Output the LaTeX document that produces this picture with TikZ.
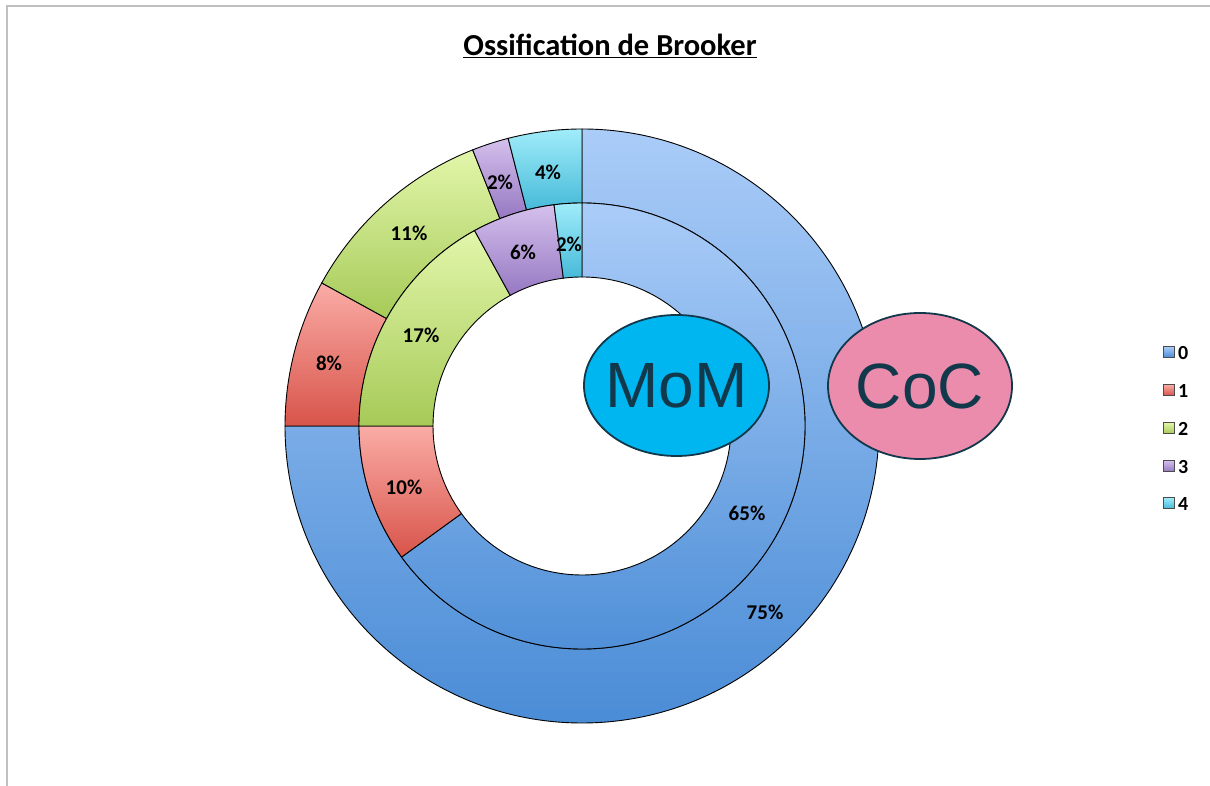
\documentclass[tikz,border=0pt]{standalone}
\usepackage{fontspec}
\setmainfont{Carlito}
\newfontfamily\arialf{Liberation Sans}
\usetikzlibrary{shapes.geometric}
\definecolor{frameg}{RGB}{192,192,192}
\definecolor{bluet}{RGB}{170,204,248}
\definecolor{blueb}{RGB}{74,140,214}
\definecolor{redt}{RGB}{250,172,166}
\definecolor{redb}{RGB}{216,84,74}
\definecolor{greent}{RGB}{226,246,170}
\definecolor{greenb}{RGB}{166,202,88}
\definecolor{purt}{RGB}{212,192,236}
\definecolor{purb}{RGB}{150,120,194}
\definecolor{cyant}{RGB}{160,236,250}
\definecolor{cyanb}{RGB}{70,186,216}
\definecolor{momfill}{RGB}{0,182,240}
\definecolor{cocfill}{RGB}{236,140,172}
\definecolor{ink}{RGB}{18,56,76}
\newcommand\ringseg[5]{%
  \shadedraw[segline, top color=#5t, bottom color=#5b]
    (#3:#2) arc[start angle=#3, end angle=#4, radius=#2]
    -- (#4:#1) arc[start angle=#4, end angle=#3, radius=#1] -- cycle;}
\begin{document}
\begin{tikzpicture}[x=1pt,y=1pt,
  segline/.style={draw=black, line width=0.9pt},
  pct/.style={font=\fontsize{21}{23}\selectfont\bfseries, inner sep=0pt},
  bubble/.style={ellipse, draw=ink, line width=1.8pt, inner sep=0pt},
  bubtext/.style={text=ink, inner sep=0pt, font=\arialf\fontsize{64}{70}\selectfont},
  legsq/.style={draw=black!70, line width=0.8pt, minimum size=11pt, inner sep=0pt},
  legtx/.style={anchor=west, inner sep=0pt, font=\fontsize{20}{22}\selectfont\bfseries}]
\useasboundingbox (0,0) rectangle (1210,786);
\fill[white] (0,0) rectangle (1210,786);
\draw[frameg, line width=2pt] (7,0) -- (7,780) -- (1210,780);
\node[font=\fontsize{30.5}{34}\selectfont\bfseries, inner sep=0pt] (title) at (610,740) {\underline{Ossification de Brooker}};
\begin{scope}[shift={(582,360)}]
  % outer ring (CoC)
  \ringseg{223}{297}{-180}{90}{blue}
  \ringseg{223}{297}{151.2}{180}{red}
  \ringseg{223}{297}{111.6}{151.2}{green}
  \ringseg{223}{297}{104.4}{111.6}{pur}
  \ringseg{223}{297}{90}{104.4}{cyan}
  % inner ring (MoM)
  \ringseg{149}{223}{-144}{90}{blue}
  \ringseg{149}{223}{180}{216}{red}
  \ringseg{149}{223}{118.8}{180}{green}
  \ringseg{149}{223}{97.2}{118.8}{pur}
  \ringseg{149}{223}{90}{97.2}{cyan}
\end{scope}
\node[pct] (l75) at (765,174) {75\%};
\node[pct] (l65) at (747,273) {65\%};
\node[pct] (l10) at (404,299) {10\%};
\node[pct] (l8) at (329,423) {8\%};
\node[pct] (l17) at (421,451) {17\%};
\node[pct] (l11) at (409,553) {11\%};
\node[pct] (l6) at (523,534) {6\%};
\node[pct] (l2o) at (500,604) {2\%};
\node[pct] (l4) at (548,614) {4\%};
\node[pct] (l2i) at (569,542) {2\%};
\node[bubble, fill=momfill, minimum width=185pt, minimum height=141pt] (mom) at (676.5,400.5) {};
\node[bubtext] (momt) at (mom.center) {MoM};
\node[bubble, fill=cocfill, minimum width=184pt, minimum height=146pt] (coc) at (920,400) {};
\node[bubtext] (coct) at (coc.center) {CoC};
\node[legsq, top color=bluet, bottom color=blueb] (k0) at (1169,434) {};
\node[legtx] (t0) at (1178,433) {0};
\node[legsq, top color=redt, bottom color=redb] (k1) at (1169,396) {};
\node[legtx] (t1) at (1178,395) {1};
\node[legsq, top color=greent, bottom color=greenb] (k2) at (1169,358) {};
\node[legtx] (t2) at (1178,357) {2};
\node[legsq, top color=purt, bottom color=purb] (k3) at (1169,320) {};
\node[legtx] (t3) at (1178,319) {3};
\node[legsq, top color=cyant, bottom color=cyanb] (k4) at (1169,283) {};
\node[legtx] (t4) at (1178,282) {4};
\end{tikzpicture}
\end{document}
